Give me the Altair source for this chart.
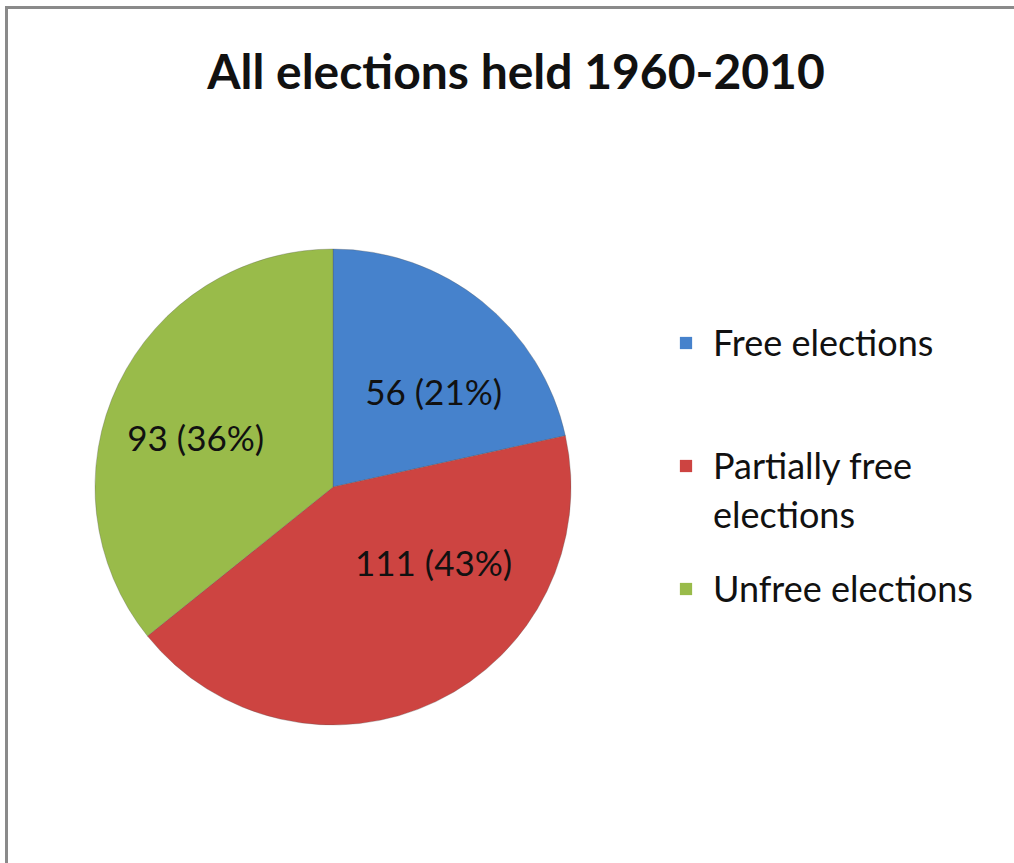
import altair as alt
import pandas as pd

categories = ["Free elections", "Partially free elections", "Unfree elections"]
legend_lines = ["Free elections", "Partially free\nelections", "Unfree elections"]
counts = [56, 111, 93]
percents = ["21%", "43%", "36%"]
colors = ["#4682cc", "#cd4441", "#99bb4a"]

df = pd.DataFrame({
    "cat": categories,
    "value": counts,
    "idx": list(range(len(categories))),
    "label": [f"{c} ({p})" for c, p in zip(counts, percents)],
    "legend": legend_lines,
})

FONT = "Lato"
CX, CY, R = 333, 487, 238

color = alt.Color("cat:N", scale=alt.Scale(domain=categories, range=colors), legend=None)

pie = alt.Chart(df).mark_arc(outerRadius=R, stroke="#555555", strokeWidth=0.6, strokeOpacity=0.5).encode(
    theta=alt.Theta("value:Q", stack=True),
    color=color,
    order=alt.Order("idx:Q"),
    x=alt.value(CX),
    y=alt.value(CY),
)

offsets = {0: (13, 16), 1: (40, -48), 2: (-11, 14)}
label_layers = []
for i in range(len(categories)):
    dx, dy = offsets[i]
    label_layers.append(
        alt.Chart(df).mark_text(font=FONT, fontSize=35, color="#111111", dx=dx, dy=dy,
                                align="center", baseline="middle").encode(
            theta=alt.Theta("value:Q", stack=True),
            order=alt.Order("idx:Q"),
            radius=alt.value(140),
            x=alt.value(CX),
            y=alt.value(CY),
            text="label:N",
            opacity=alt.condition(alt.datum.idx == i, alt.value(1), alt.value(0)),
        )
    )

yscale = alt.Scale(domain=[0, 2], range=[343, 589])

leg_sq = alt.Chart(df).mark_square(size=150, opacity=1).encode(
    x=alt.value(686),
    y=alt.Y("idx:Q", scale=yscale, axis=None),
    color=color,
)

leg_txt = alt.Chart(df).mark_text(font=FONT, fontSize=36, align="left", baseline="alphabetic",
                                  dy=13, lineBreak="\n", lineHeight=49, color="#111111").encode(
    x=alt.value(713),
    y=alt.Y("idx:Q", scale=yscale, axis=None),
    text="legend:N",
)

title = alt.Chart(pd.DataFrame({"t": ["All elections held 1960-2010"]})).mark_text(
    font=FONT, fontSize=48, fontWeight="bold", align="center", baseline="alphabetic", color="#111111"
).encode(x=alt.value(516), y=alt.value(89), text="t:N")

frame = alt.Chart(pd.DataFrame({"a": [0]})).mark_rect(
    fill=None, stroke="#8a8a8a", strokeWidth=3
).encode(x=alt.value(6.5), x2=alt.value(1040), y=alt.value(7.5), y2=alt.value(900))

chart = alt.layer(frame, pie, *label_layers, leg_sq, leg_txt, title).properties(
    width=1014, height=863, padding=0, autosize=alt.AutoSizeParams(type="none"),
    background="white",
).configure_view(stroke=None)

chart.save("out.html", embed_options={"renderer": "svg", "actions": False})
